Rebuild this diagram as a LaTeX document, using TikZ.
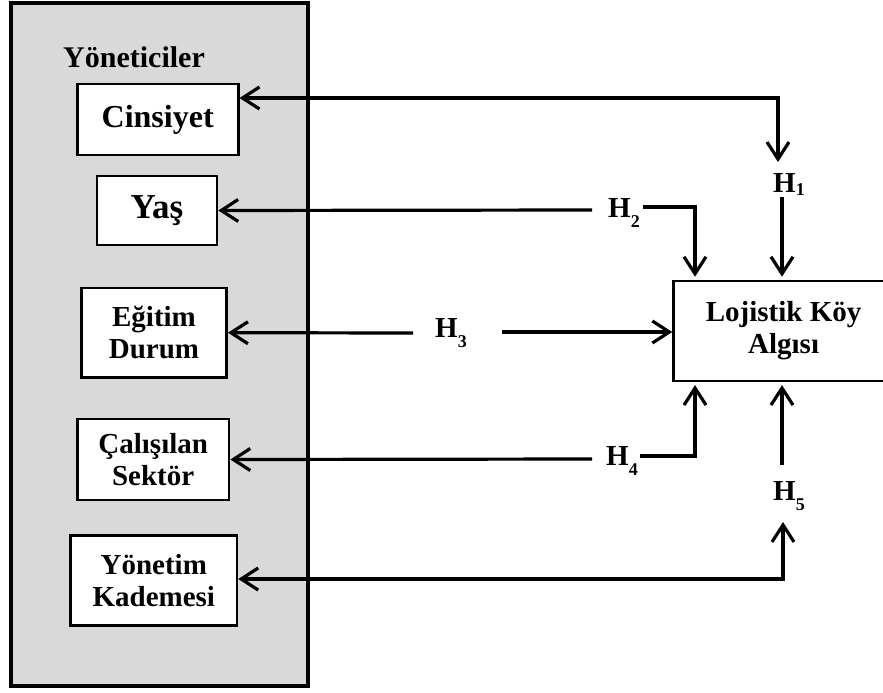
\documentclass[tikz,border=0pt]{standalone}
\usepackage{fontspec}
\setmainfont{Liberation Serif}
\usetikzlibrary{arrows.meta}
\definecolor{panel}{HTML}{D9D9D9}
\newcommand\hsub[2][10pt]{H\raisebox{-#1}{\fontsize{18}{18}\selectfont #2}}
\begin{document}
\begin{tikzpicture}[x=1pt,y=-1pt,
  >={Straight Barb[length=17pt,width=22pt]},
  box/.style={draw,line width=2.6pt,fill=white,align=center,inner sep=0pt,
    font=\bfseries\fontsize{29}{32}\selectfont},
  conn/.style={line width=3.2pt},
  lab/.style={inner sep=0pt,font=\bfseries\fontsize{29}{32}\selectfont}]
\useasboundingbox (0,0) rectangle (883,693);
% panel
\node[draw,line width=3.5pt,fill=panel,minimum width=297,minimum height=682.5,
  anchor=north west,inner sep=0pt] (grp) at (9,1.5) {};
\node[anchor=base,font=\bfseries\fontsize{30}{30}\selectfont] (ttl) at (134,67) {Yöneticiler};
% boxes
\node[box,minimum width=161,minimum height=71,font=\bfseries\fontsize{32}{32}\selectfont] (cins) at (157.7,119.5) {Cinsiyet};
\node[box,minimum width=120,minimum height=69,font=\bfseries\fontsize{35}{35}\selectfont] (yas) at (157,210.5) {Yaş};
\node[box,minimum width=145.4,minimum height=89.3] (egt) at (154,332.7) {Eğitim\\Durum};
\node[box,minimum width=151.7,minimum height=81] (cal) at (153.2,459.5) {Çalışılan\\Sektör};
\node[box,minimum width=166.3,minimum height=90] (yon) at (153.8,580.7) {Yönetim\\Kademesi};
\node[box,minimum width=220,minimum height=99.8,anchor=north west] (lk) at (672.3,279.7) {Lojistik Köy\\Algısı};
% labels
\node[lab,anchor=base west] (h1) at (773,192) {\hsub[3pt]{1}};
\node[lab,anchor=base west] (h2) at (608,217) {\hsub{2}};
\node[lab,anchor=base west] (h3) at (435,337) {\hsub{3}};
\node[lab,anchor=base west] (h4) at (606,465) {\hsub{4}};
\node[lab,anchor=base west] (h5) at (773,500) {\hsub{5}};
% coordinates
\coordinate (k1) at (778,98);
\coordinate (t1) at (778,162);
\coordinate (s1) at (782,197);
\coordinate (e2) at (592,210);
\coordinate (f2) at (643,207);
\coordinate (k2) at (695,207);
\coordinate (e3) at (413,333);
\coordinate (f3) at (502,332);
\coordinate (e4) at (592,459);
\coordinate (f4) at (640,456);
\coordinate (k4) at (695,456);
\coordinate (k5) at (783,579);
\coordinate (t5) at (783,522);
\coordinate (s5) at (782,465);
% connectors
\draw[conn,<->] (cins.east |- k1) -- (k1) -- (t1);
\draw[conn,->,shorten >=3pt] (s1) -- (s1 |- lk.north);
\draw[conn,<-] (yas.east) -- (e2);
\draw[conn,->,shorten >=3pt] (f2) -- (k2) -- (k2 |- lk.north);
\draw[conn,<-] (egt.east) -- (e3);
\draw[conn,->] (f3) -- (f3 -| lk.west);
\draw[conn,<-] (cal.east) -- (e4);
\draw[conn,->,shorten >=3pt] (f4) -- (k4) -- (k4 |- lk.south);
\draw[conn,<->] (yon.east |- k5) -- (k5) -- (t5);
\draw[conn,->,shorten >=3pt] (s5) -- (s5 |- lk.south);
\end{tikzpicture}
\end{document}
